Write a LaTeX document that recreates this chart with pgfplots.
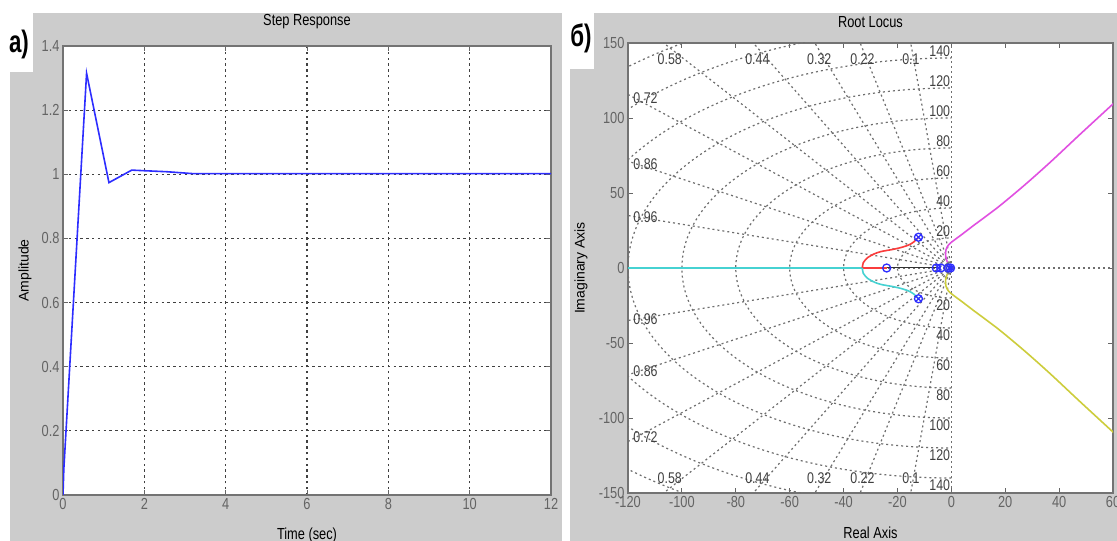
\documentclass[border=0pt]{standalone}
\usepackage{fontspec}
\setmainfont{Liberation Sans}[FakeStretch=0.8]
\newfontfamily\labelfont{Liberation Sans}[FakeStretch=0.72]
\newfontfamily\ylabfont{Liberation Sans}
\usepackage{pgfplots}
\pgfplotsset{compat=1.18}
\definecolor{panel}{RGB}{204,204,204}
\definecolor{mblue}{RGB}{45,45,255}
\definecolor{mred}{RGB}{250,60,60}
\definecolor{mcyan}{RGB}{70,210,210}
\definecolor{mmag}{RGB}{225,80,225}
\definecolor{myel}{RGB}{205,205,60}
\definecolor{tickgray}{RGB}{100,100,100}
\definecolor{sgridc}{RGB}{110,110,110}
\tikzset{sgrid/.style={sgridc, line width=1.2pt, dash pattern=on 2pt off 3pt},
  zl/.style={font=\fontsize{15.5}{15.5}\selectfont, text=black!75, inner sep=1pt}}
\pgfplotsset{
  matlab/.style={
    scale only axis, tick align=inside, major tick length=5pt,
    tick style={black!60, line width=0.9pt},
    axis line style={black!55, line width=1.3pt},
    ticklabel style={font=\fontsize{16}{16}\selectfont, text=tickgray},
    axis background/.style={fill=white},
    title style={font=\fontsize{16}{16}\selectfont, anchor=center},
    xlabel style={font=\fontsize{16}{16}\selectfont, anchor=center},
    ylabel style={font=\ylabfont\fontsize{14}{14}\selectfont, anchor=center},
  }
}
\begin{document}
\begin{tikzpicture}[x=1pt,y=1pt]
\useasboundingbox (0,0) rectangle (1117,541);
\clip (0,0) rectangle (1117,541);
\fill[white] (0,0) rectangle (1117,541);
\fill[panel] (10,0) rectangle (562,528);
\fill[panel] (570,0) rectangle (1117,528);
\fill[white] (0,469) rectangle (33,541);
\fill[white] (562,472) rectangle (594,541);
\node[font=\labelfont\fontsize{31}{31}\selectfont\bfseries] at (19,497) {а)};
\node[font=\labelfont\fontsize{31}{31}\selectfont\bfseries] at (581,503) {б)};

% ---------------- Step response ----------------
\begin{axis}[matlab,
  at={(63pt,46pt)}, anchor=south west, width=488pt, height=449pt,
  xmin=0, xmax=12, ymin=0, ymax=1.4,
  xtick={0,2,4,6,8,10,12}, xticklabels={0,2,4,6,8,10,12},
  ytick={0,0.2,0.4,0.6,0.8,1,1.2,1.4}, yticklabels={0,0.2,0.4,0.6,0.8,1,1.2,1.4},
  grid=major, grid style={black!75, line width=1.1pt, dash pattern=on 2.4pt off 3.4pt},
  title={Step Response}, title style={at={(axis description cs:0.5,1.04)}},
  xlabel={Time (sec)}, xlabel style={at={(axis description cs:0.5,-0.089)}},
  ylabel={Amplitude}, ylabel style={at={(axis description cs:-0.078,0.5)}},
]
\addplot[mblue, line width=1.6pt] coordinates {
 (0,0) (0.02,0.08) (0.58,1.315) (1.13,0.974) (1.69,1.013) (2.02,1.011) (2.55,1.008) (3.2,1.002) (12,1.002)};
\end{axis}

% ---------------- Root locus ----------------
\begin{axis}[matlab,
  at={(628pt,48pt)}, anchor=south west, width=485pt, height=450pt,
  xmin=-120, xmax=60, ymin=-150, ymax=150,
  xtick={-120,-100,-80,-60,-40,-20,0,20,40,60},
  xticklabels={-120,-100,-80,-60,-40,-20,0,20,40,60},
  ytick={-150,-100,-50,0,50,100,150}, yticklabels={-150,-100,-50,0,50,100,150},
  title={Root Locus}, title style={at={(axis description cs:0.5,1.033)}},
  xlabel={Real Axis}, xlabel style={at={(axis description cs:0.5,-0.089)}},
  ylabel={Imaginary Axis}, ylabel style={at={(axis description cs:-0.097,0.5)}},
]
% s-grid: natural frequency circles
\begin{scope}
\clip (axis cs:-120,-150) rectangle (axis cs:0,150);
\draw[sgrid] (axis cs:0,0) ellipse [x radius=20, y radius=20];
\draw[sgrid] (axis cs:0,0) ellipse [x radius=40, y radius=40];
\draw[sgrid] (axis cs:0,0) ellipse [x radius=60, y radius=60];
\draw[sgrid] (axis cs:0,0) ellipse [x radius=80, y radius=80];
\draw[sgrid] (axis cs:0,0) ellipse [x radius=100, y radius=100];
\draw[sgrid] (axis cs:0,0) ellipse [x radius=120, y radius=120];
\draw[sgrid] (axis cs:0,0) ellipse [x radius=140, y radius=140];
\draw[sgrid] (axis cs:0,0) ellipse [x radius=160, y radius=160];
\draw[sgrid] (axis cs:0,0) ellipse [x radius=180, y radius=180];
\end{scope}
% s-grid: damping lines
\draw[sgrid] (axis cs:0,0) -- (axis cs:-15.08,150);
\draw[sgrid] (axis cs:0,0) -- (axis cs:-33.83,150);
\draw[sgrid] (axis cs:0,0) -- (axis cs:-50.66,150);
\draw[sgrid] (axis cs:0,0) -- (axis cs:-73.5,150);
\draw[sgrid] (axis cs:0,0) -- (axis cs:-106.8,150);
\draw[sgrid] (axis cs:0,0) -- (axis cs:-120,115.7);
\draw[sgrid] (axis cs:0,0) -- (axis cs:-120,71.2);
\draw[sgrid] (axis cs:0,0) -- (axis cs:-120,35);
\draw[sgrid] (axis cs:0,0) -- (axis cs:-15.08,-150);
\draw[sgrid] (axis cs:0,0) -- (axis cs:-33.83,-150);
\draw[sgrid] (axis cs:0,0) -- (axis cs:-50.66,-150);
\draw[sgrid] (axis cs:0,0) -- (axis cs:-73.5,-150);
\draw[sgrid] (axis cs:0,0) -- (axis cs:-106.8,-150);
\draw[sgrid] (axis cs:0,0) -- (axis cs:-120,-115.7);
\draw[sgrid] (axis cs:0,0) -- (axis cs:-120,-71.2);
\draw[sgrid] (axis cs:0,0) -- (axis cs:-120,-35);
\draw[sgrid] (axis cs:0,-150) -- (axis cs:0,150);
\draw[sgrid] (axis cs:-120,0) -- (axis cs:60,0);
% damping labels
\node[zl] at (axis cs:-104.5,139) {0.58};
\node[zl] at (axis cs:-72,139) {0.44};
\node[zl] at (axis cs:-49,139) {0.32};
\node[zl] at (axis cs:-33,139) {0.22};
\node[zl] at (axis cs:-15,139) {0.1};
\node[zl] at (axis cs:-113.5,113) {0.72};
\node[zl] at (axis cs:-113.5,69) {0.86};
\node[zl] at (axis cs:-113.5,34) {0.96};
\node[zl] at (axis cs:-104.5,-140) {0.58};
\node[zl] at (axis cs:-72,-140) {0.44};
\node[zl] at (axis cs:-49,-140) {0.32};
\node[zl] at (axis cs:-33,-140) {0.22};
\node[zl] at (axis cs:-15,-140) {0.1};
\node[zl] at (axis cs:-113.5,-113) {0.72};
\node[zl] at (axis cs:-113.5,-69) {0.86};
\node[zl] at (axis cs:-113.5,-34) {0.96};
% natural frequency labels
\node[zl, anchor=south east] at (axis cs:0,20) {20};
\node[zl, anchor=south east] at (axis cs:0,40) {40};
\node[zl, anchor=south east] at (axis cs:0,60) {60};
\node[zl, anchor=south east] at (axis cs:0,80) {80};
\node[zl, anchor=south east] at (axis cs:0,100) {100};
\node[zl, anchor=south east] at (axis cs:0,120) {120};
\node[zl, anchor=south east] at (axis cs:0,140) {140};
\node[zl, anchor=north east] at (axis cs:0,-20) {20};
\node[zl, anchor=north east] at (axis cs:0,-40) {40};
\node[zl, anchor=north east] at (axis cs:0,-60) {60};
\node[zl, anchor=north east] at (axis cs:0,-80) {80};
\node[zl, anchor=north east] at (axis cs:0,-100) {100};
\node[zl, anchor=north east] at (axis cs:0,-120) {120};
\node[zl, anchor=north east] at (axis cs:0,-140) {140};
% branches
\addplot[mcyan, line width=1.6pt] coordinates {(-125,0) (-33,0)};
\addplot[mred, line width=1.6pt] coordinates {(-33,0) (-24,0)};
\addplot[black!80, line width=1pt] coordinates {(-24,0) (-5.5,0)};
\addplot[mred, line width=1.6pt, smooth] coordinates {
 (-33,0) (-32.7,3.5) (-31,7) (-28.5,9.5) (-26,11) (-22,12.3) (-19,13.5) (-16,15.2) (-14,17.3) (-12.2,20.5)};
\addplot[mcyan, line width=1.6pt, smooth] coordinates {
 (-33,0) (-32.7,-3.5) (-31,-7) (-28.5,-9.5) (-26,-11) (-22,-12.3) (-19,-13.5) (-16,-15.2) (-14,-17.3) (-12.2,-20.5)};
\addplot[mmag, line width=1.6pt, smooth] coordinates {
 (-1.5,4) (-2.1,8) (-2,12) (-1,15.5) (1,18.5) (4,22.5) (8,28) (12.5,34) (18,41.5) (27,55) (36.7,70.5) (48,89.5) (61,111)};
\addplot[myel, line width=1.6pt, smooth] coordinates {
 (-1.5,-4) (-2.1,-8) (-2,-12) (-1,-15.5) (1,-18.5) (4,-22.5) (8,-28) (12.5,-34) (18,-41.5) (27,-55) (36.7,-70.5) (48,-89.5) (61,-111)};
% poles and zeros
\addplot[only marks, mark=o, mark size=4pt, mblue, line width=1.3pt] coordinates {
 (-12.2,20.5) (-12.2,-20.5) (-24,0) (-5.6,0) (-3.9,0) (-1.2,0) (-0.3,0)};
\addplot[only marks, mark=x, mark size=3.5pt, mblue, line width=1.3pt] coordinates {
 (-12.2,20.5) (-12.2,-20.5) (-4.7,0) (-0.6,0) (0,0)};
\end{axis}
\end{tikzpicture}
\end{document}
